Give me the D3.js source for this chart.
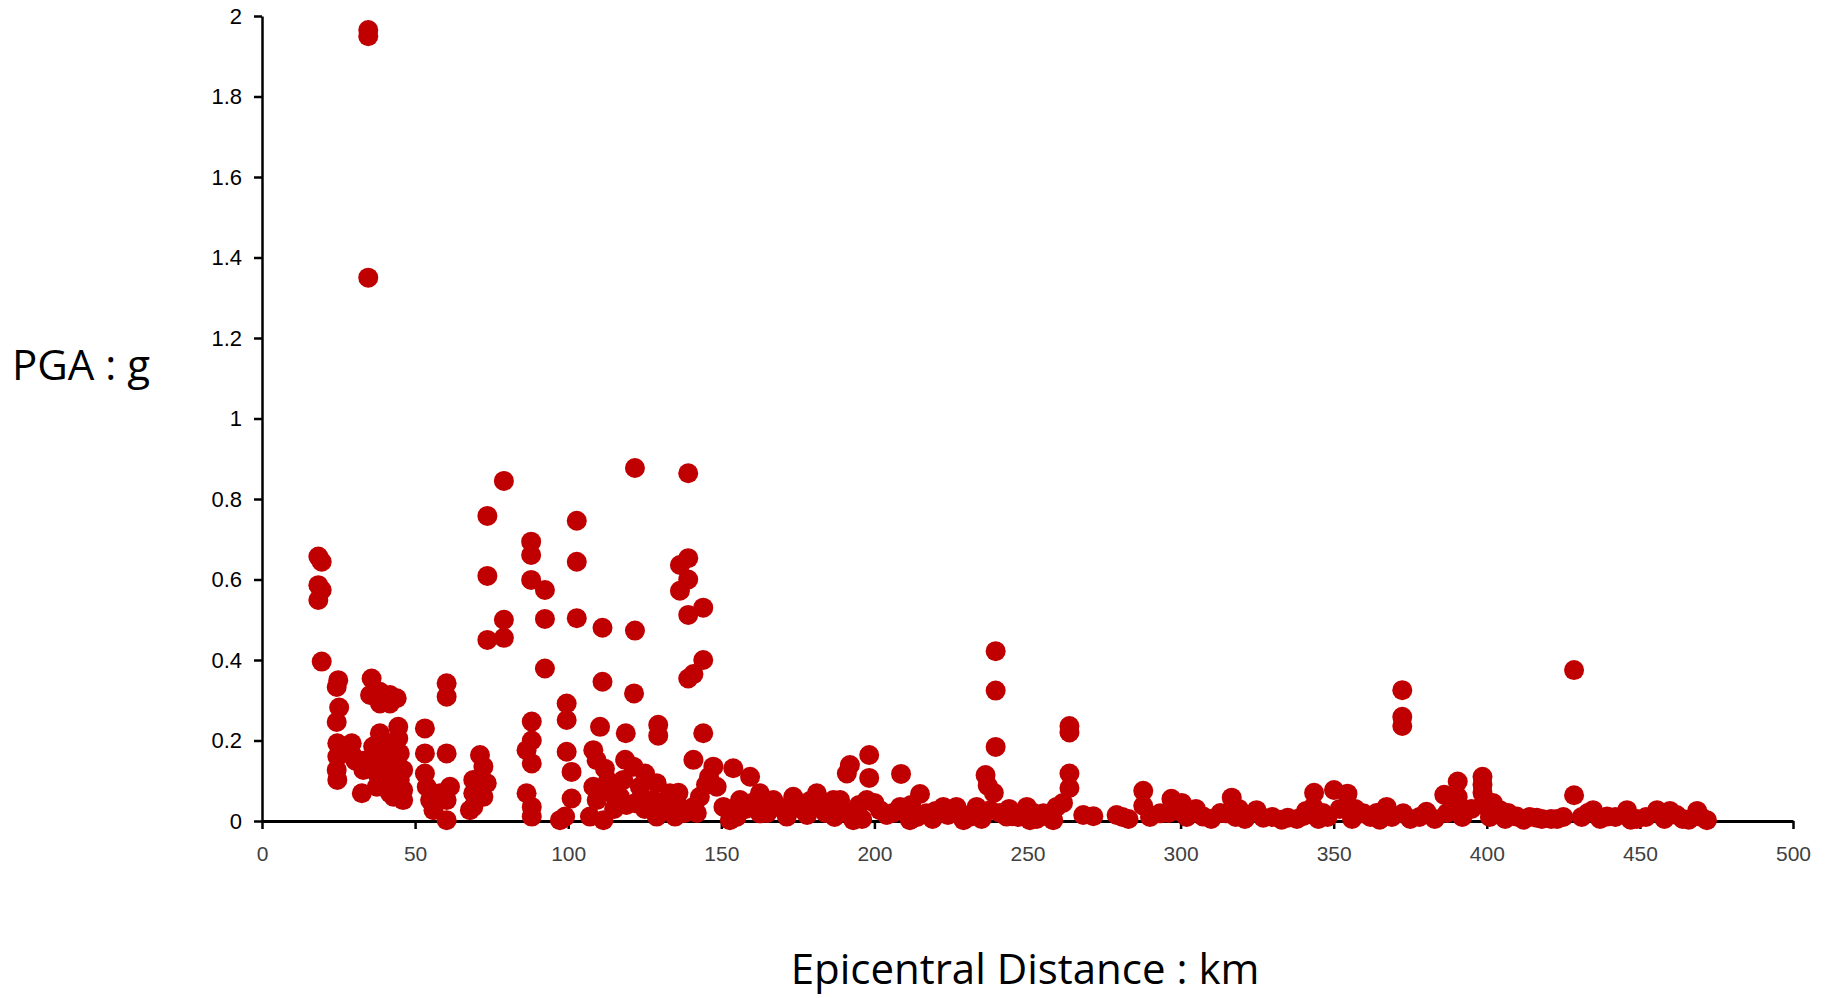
<!DOCTYPE html>
<html>
<head>
<meta charset="utf-8">
<script src="https://cdn.jsdelivr.net/npm/d3@7"></script>
<style>
  html, body { margin: 0; padding: 0; background: #fff; }
  svg { display: block; font-family: "Open Sans", "Noto Sans", sans-serif; }
</style>
</head>
<body>
<div id="visualization"></div>
<script>
// --- Data: [epicentral distance km, PGA g] ---
const nearField = [
  [34.7, 1.965], [34.7, 1.95], [34.7, 1.35],
  [18.4, 0.657], [19.5, 0.644], [18.4, 0.586], [19.5, 0.574], [18.4, 0.549], [19.5, 0.396],
  [24.9, 0.35], [24.4, 0.333], [25.2, 0.282], [24.4, 0.246], [24.6, 0.193], [24.6, 0.16],
  [24.4, 0.127], [24.6, 0.102], [29.3, 0.193], [29.8, 0.16], [27.5, 0.17], [32.6, 0.069],
  [35.8, 0.354], [35.3, 0.313], [38.5, 0.321], [41.8, 0.313], [44.0, 0.305], [38.5, 0.292],
  [41.8, 0.292], [44.5, 0.234], [38.5, 0.218], [44.5, 0.205], [36.3, 0.185], [41.8, 0.185],
  [45.0, 0.168], [35.3, 0.152], [39.6, 0.135], [44.0, 0.143], [46.1, 0.127], [33.1, 0.127],
  [37.5, 0.118], [41.8, 0.11], [45.0, 0.102], [46.1, 0.077], [41.8, 0.069], [46.1, 0.052],
  [37.5, 0.085], [30.5, 0.15], [33.0, 0.15], [40.0, 0.16], [43.0, 0.06],
  [53.2, 0.23], [53.2, 0.168], [60.3, 0.168], [60.3, 0.342], [60.3, 0.309], [53.2, 0.118],
  [53.8, 0.085], [54.9, 0.052], [56.0, 0.027], [60.3, 0.002], [61.4, 0.085], [60.3, 0.052],
  [58.1, 0.069], [71.2, 0.164], [72.3, 0.135], [69.0, 0.102], [69.0, 0.069], [69.0, 0.035],
  [73.4, 0.094], [72.3, 0.06], [67.9, 0.027], [73.6, 0.758], [73.6, 0.609], [73.6, 0.45],
  [79.0, 0.845], [79.0, 0.50], [79.0, 0.455], [87.9, 0.694], [87.9, 0.661], [87.9, 0.599],
  [92.4, 0.574], [92.4, 0.502], [92.4, 0.379], [88.1, 0.247], [86.4, 0.176], [88.1, 0.20],
  [88.1, 0.143], [86.4, 0.069], [88.1, 0.035], [88.1, 0.011], [97.3, 0.002],
  [99.5, 0.292], [99.5, 0.251], [99.5, 0.172]
];
const midField = [
  [101.1, 0.122], [101.1, 0.056], [99.0, 0.011], [102.8, 0.746], [102.8, 0.644], [102.8, 0.504],
  [111.2, 0.48], [111.2, 0.346], [110.4, 0.234], [121.8, 0.877], [121.8, 0.473], [121.5, 0.317],
  [118.8, 0.218], [129.4, 0.239], [129.4, 0.212], [139.2, 0.864], [136.5, 0.636], [139.2, 0.653],
  [136.5, 0.572], [139.2, 0.60], [139.2, 0.512], [144.1, 0.53], [144.1, 0.40], [139.2, 0.354],
  [140.9, 0.365], [144.1, 0.218], [140.9, 0.152], [108.2, 0.176], [109.3, 0.151], [108.2, 0.085],
  [109.3, 0.052], [107.1, 0.011], [111.5, 0.002], [118.6, 0.152], [121.3, 0.135], [125.1, 0.118],
  [118.0, 0.102], [123.4, 0.085], [128.9, 0.094], [133.2, 0.069], [116.9, 0.06], [121.8, 0.044],
  [127.8, 0.052], [128.9, 0.011], [134.9, 0.011], [140.9, 0.035], [135.5, 0.044], [147.4, 0.135],
  [153.9, 0.131], [159.4, 0.11], [148.5, 0.085], [150.7, 0.035], [156.1, 0.052], [162.6, 0.069],
  [167.0, 0.052], [173.5, 0.06], [176.8, 0.027], [181.2, 0.069], [171.4, 0.011], [152.8, 0.002],
  [162.6, 0.019], [186.6, 0.052], [113, 0.10], [114, 0.07], [115, 0.03], [125, 0.03], [131, 0.03],
  [138, 0.02], [143, 0.06], [145, 0.09], [146, 0.11], [112, 0.13], [116, 0.09], [119, 0.04],
  [124, 0.06], [132, 0.05], [136, 0.07], [142, 0.02], [155, 0.01], [158, 0.03], [165, 0.02],
  [170, 0.03], [178, 0.015], [183, 0.03], [160, 0.045], [164, 0.035], [168, 0.04], [175, 0.045],
  [179, 0.05], [184, 0.02]
];
const farField = [
  [192.0, 0.139], [191.0, 0.118], [198.3, 0.164], [198.3, 0.107], [208.7, 0.117], [214.9, 0.067],
  [188.8, 0.052], [189.9, 0.027], [193.1, 0.002], [197.5, 0.052], [201.8, 0.027], [208.4, 0.035],
  [211.6, 0.002], [217.0, 0.019], [222.5, 0.035], [226.8, 0.035], [229.1, 0.002], [233.4, 0.035],
  [237.8, 0.027], [243.2, 0.011], [249.8, 0.035], [250.8, 0.002], [255.2, 0.019], [258.4, 0.002],
  [259.5, 0.035], [239.6, 0.422], [239.6, 0.324], [239.6, 0.184], [236.3, 0.114], [237, 0.088],
  [239, 0.07], [263.7, 0.236], [263.7, 0.22], [263.7, 0.118], [263.7, 0.082], [261.6, 0.045],
  [268.2, 0.015], [271.5, 0.012], [279.1, 0.015], [187, 0.01], [196, 0.005], [204, 0.015],
  [214, 0.01], [219, 0.005], [224, 0.015], [231, 0.01], [235, 0.005], [241, 0.02], [245, 0.012],
  [247, 0.01], [253, 0.005], [257, 0.01], [195, 0.04], [200, 0.045], [206, 0.02], [212, 0.04],
  [220, 0.025], [228, 0.02], [244, 0.03], [252, 0.02], [281, 0.01]
];
const distantField = [
  [287.8, 0.075], [287.8, 0.038], [297.0, 0.055], [300.4, 0.045], [293.3, 0.019], [307.4, 0.011],
  [316.7, 0.058], [315.0, 0.019], [324.8, 0.027], [330, 0.01], [335, 0.008], [340, 0.012],
  [343.6, 0.07], [343.3, 0.035], [350.1, 0.077], [354.5, 0.068], [346.5, 0.02], [359.7, 0.019],
  [367.3, 0.035], [372.7, 0.019], [372.4, 0.325], [372.4, 0.259], [372.4, 0.236], [380.3, 0.023],
  [386.1, 0.065], [390.5, 0.098], [390.5, 0.06], [398.6, 0.11], [398.6, 0.09], [398.6, 0.07],
  [398.6, 0.04], [404.3, 0.027], [409.8, 0.011], [416.3, 0.008], [421, 0.005], [425, 0.01],
  [428.5, 0.375], [428.5, 0.064], [434.7, 0.027], [439.3, 0.011], [445.8, 0.027], [449, 0.005],
  [455.6, 0.027], [459.8, 0.025], [464, 0.005], [468.7, 0.025], [471.9, 0.002],
  [283, 0.005], [290, 0.01], [296, 0.02], [302, 0.01], [305, 0.03], [310, 0.005], [313, 0.02],
  [318, 0.01], [321, 0.005], [327, 0.008], [333, 0.003], [338, 0.005], [345, 0.005], [348, 0.01],
  [352, 0.03], [356, 0.005], [362, 0.01], [365, 0.003], [369, 0.01], [375, 0.005], [378, 0.01],
  [383, 0.005], [387, 0.02], [392, 0.01], [395, 0.03], [401, 0.01], [406, 0.005], [412, 0.003],
  [418, 0.005], [423, 0.005], [431, 0.01], [437, 0.005], [442, 0.01], [447, 0.003], [452, 0.01],
  [458, 0.005], [462, 0.015], [466, 0.003], [470, 0.01], [299, 0.025], [319, 0.03], [341, 0.025],
  [357, 0.03], [364, 0.02], [389, 0.035], [402, 0.045], [407, 0.02], [414, 0.01], [433, 0.02]
];
const xTickValues = [0, 50, 100, 150, 200, 250, 300, 350, 400, 450, 500];
const yTickValues = [0, 0.2, 0.4, 0.6, 0.8, 1, 1.2, 1.4, 1.6, 1.8, 2];
const xTitle = "Epicentral Distance : km";
const yTitle = "PGA : g";

// --- Layout ---
const SVG_WIDTH = 1831;
const SVG_HEIGHT = 998;
const PLOT = { left: 262, right: 1793, top: 16, bottom: 821 };
const DOT_COLOR = "#C00000";

const svg = d3.select("#visualization")
  .append("svg")
  .attr("width", SVG_WIDTH)
  .attr("height", SVG_HEIGHT);

const xScale = d3.scaleLinear().domain([0, 500]).range([PLOT.left, PLOT.right]);
const yScale = d3.scaleLinear().domain([0, 2]).range([PLOT.bottom, PLOT.top]);

// y axis
const yAxis = svg.append("g")
  .attr("transform", `translate(${PLOT.left},0)`)
  .call(d3.axisLeft(yScale).tickValues(yTickValues).tickFormat(d => String(+d.toFixed(1)))
    .tickSize(8).tickSizeOuter(0).tickPadding(12));
yAxis.select(".domain").attr("stroke", "#000").attr("stroke-width", 2.5);
yAxis.selectAll(".tick line").attr("stroke", "#000").attr("stroke-width", 2.5);
yAxis.selectAll(".tick text").attr("fill", "#000").style("font-size", "22px");

// x axis
const xAxis = svg.append("g")
  .attr("transform", `translate(0,${PLOT.bottom})`)
  .call(d3.axisBottom(xScale).tickValues(xTickValues).tickFormat(d3.format("d"))
    .tickSize(8).tickSizeOuter(0).tickPadding(17));
xAxis.select(".domain").attr("stroke", "#000").attr("stroke-width", 3);
xAxis.selectAll(".tick line").attr("stroke", "#000").attr("stroke-width", 2.5);
xAxis.selectAll(".tick text").attr("fill", "#404040").style("font-size", "21px");

// points
const points = [...nearField, ...midField, ...farField, ...distantField];
svg.append("g")
  .selectAll("circle")
  .data(points)
  .join("circle")
  .attr("cx", d => xScale(d[0]))
  .attr("cy", d => yScale(d[1]))
  .attr("r", 10)
  .attr("fill", DOT_COLOR);

// axis titles
svg.append("text")
  .attr("x", 12)
  .attr("y", 380)
  .attr("fill", "#000")
  .style("font-size", "42px")
  .text(yTitle);

svg.append("text")
  .attr("x", 1025)
  .attr("y", 984)
  .attr("text-anchor", "middle")
  .attr("fill", "#000")
  .style("font-size", "42px")
  .text(xTitle);
</script>
</body>
</html>
